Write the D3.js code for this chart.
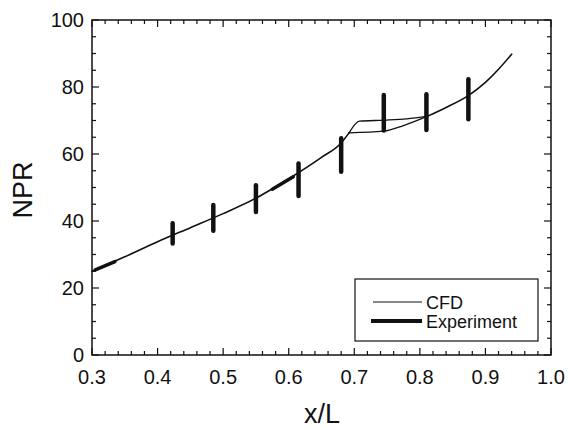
<!DOCTYPE html>
<html><head><meta charset="utf-8">
<script src="https://cdn.jsdelivr.net/npm/d3@7"></script>
<style>body{margin:0;background:#fff}svg{display:block}text{font-family:"Liberation Sans",Arial,sans-serif;fill:#111}</style>
</head><body><svg id="c" width="568" height="430"></svg>
<script>
// CFD curve (main branch, then split region, then tail)
const cfdMainX = [0.30,0.35,0.40,0.45,0.50,0.55,0.60,0.65,0.68,0.692];
const cfdMainY = [25.0,29.3,33.8,38.0,42.2,46.8,52.6,59.0,63.3,66.3];
const cfdUpperX = [0.692,0.708,0.745,0.78,0.812];
const cfdUpperY = [66.3,69.8,70.1,70.5,71.3];
const cfdLowerX = [0.692,0.745,0.775,0.812];
const cfdLowerY = [66.3,66.8,68.5,71.3];
const cfdTailX = [0.812,0.84,0.875,0.90,0.92,0.94];
const cfdTailY = [71.3,73.9,77.6,81.4,85.3,89.8];
// Experiment ranges
const expX = [0.423,0.485,0.550,0.615,0.680,0.745,0.810,0.874];
const expLow = [33.3,37.1,42.7,47.5,54.7,67.0,67.2,70.4];
const expHigh = [39.3,44.8,50.7,57.2,64.7,77.6,77.8,82.3];
// Experiment thick segments along curve
const expSegX = [[0.305,0.335],[0.575,0.607]];
const expSegY = [[25.4,27.9],[49.5,53.2]];

const xTicks = [0.3,0.4,0.5,0.6,0.7,0.8,0.9,1.0];
const yTicks = [0,20,40,60,80,100];

const svg = d3.select("#c");
const L=92,R=551,T=20,B=355;
const x = d3.scaleLinear().domain([0.3,1.0]).range([L,R]);
const y = d3.scaleLinear().domain([0,100]).range([B,T]);

svg.append("rect").attr("x",L).attr("y",T).attr("width",R-L).attr("height",B-T)
  .attr("fill","none").attr("stroke","#111").attr("stroke-width",1.5);

const minorX = d3.range(0.3,1.0001,0.02);
const minorY = d3.range(0,100.001,5);
const g = svg.append("g").attr("stroke","#111");
minorX.forEach(v=>{
  const major = Math.abs(Math.round(v*10)-v*10)<1e-6;
  const len = major?7:4;
  g.append("line").attr("x1",x(v)).attr("x2",x(v)).attr("y1",B).attr("y2",B-len).attr("stroke-width",1.2);
  g.append("line").attr("x1",x(v)).attr("x2",x(v)).attr("y1",T).attr("y2",T+len).attr("stroke-width",1.2);
});
minorY.forEach(v=>{
  const major = v%20===0;
  const len = major?7:4;
  g.append("line").attr("y1",y(v)).attr("y2",y(v)).attr("x1",L).attr("x2",L+len).attr("stroke-width",1.2);
  g.append("line").attr("y1",y(v)).attr("y2",y(v)).attr("x1",R).attr("x2",R-len).attr("stroke-width",1.2);
});

svg.selectAll(".xt").data(xTicks).enter().append("text")
  .attr("x",d=>x(d)).attr("y",384).attr("text-anchor","middle").attr("font-size",20)
  .text(d=>d.toFixed(1));
svg.selectAll(".yt").data(yTicks).enter().append("text")
  .attr("x",84).attr("y",d=>y(d)+7).attr("text-anchor","end").attr("font-size",20)
  .text(d=>d);

svg.append("text").attr("x",322).attr("y",423).attr("text-anchor","middle").attr("font-size",27).text("x/L");
svg.append("text").attr("transform","translate(32,190) rotate(-90)").attr("text-anchor","middle").attr("font-size",27).text("NPR");

const line = d3.line().x(d=>x(d[0])).y(d=>y(d[1])).curve(d3.curveMonotoneX);
function draw(xs,ys,w){
  svg.append("path").datum(d3.zip(xs,ys)).attr("d",line).attr("fill","none")
    .attr("stroke","#111").attr("stroke-width",w).attr("stroke-linecap","round");
}
draw(cfdMainX,cfdMainY,1.6);
draw(cfdUpperX,cfdUpperY,1.3);
draw(cfdLowerX,cfdLowerY,1.3);
draw(cfdTailX,cfdTailY,1.6);
expSegX.forEach((s,i)=>draw(s,expSegY[i],3.5));

svg.selectAll(".bar").data(expX).enter().append("line")
  .attr("x1",d=>x(d)).attr("x2",d=>x(d))
  .attr("y1",(d,i)=>y(expLow[i])).attr("y2",(d,i)=>y(expHigh[i]))
  .attr("stroke","#111").attr("stroke-width",4.5).attr("stroke-linecap","round");

// legend
svg.append("rect").attr("x",355).attr("y",279).attr("width",183).attr("height",62)
  .attr("fill","#fff").attr("stroke","#111").attr("stroke-width",1.2);
svg.append("line").attr("x1",373).attr("x2",422).attr("y1",302).attr("y2",302).attr("stroke","#111").attr("stroke-width",1.2);
svg.append("line").attr("x1",371).attr("x2",422).attr("y1",321).attr("y2",321).attr("stroke","#111").attr("stroke-width",4);
svg.append("text").attr("x",426).attr("y",309).attr("font-size",18).text("CFD");
svg.append("text").attr("x",426).attr("y",328).attr("font-size",18).text("Experiment");
</script></body></html>
